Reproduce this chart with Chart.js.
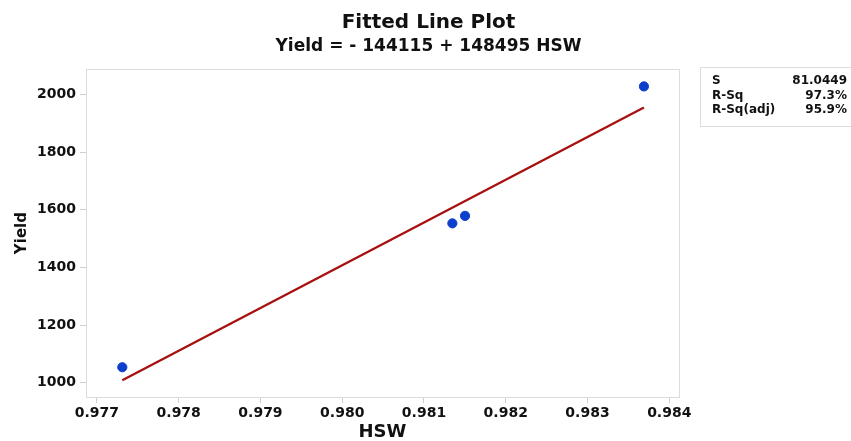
<!DOCTYPE html>
<html>
<head>
<meta charset="utf-8">
<script src="https://cdn.jsdelivr.net/npm/chart.js@4"></script>
<style>
  html, body { margin: 0; padding: 0; background: #fff; }
  #wrap { position: relative; width: 851px; height: 441px; }
  #stats {
    position: absolute; left: 700px; top: 67px; width: 151px; height: 60px;
    border: 1px solid #dcdcdc; border-right: none; box-sizing: border-box;
    font-family: "DejaVu Sans", sans-serif; font-weight: bold; font-size: 12px;
    color: #111; padding: 5px 4px 0 11px;
  }
  #stats .row { display: flex; justify-content: space-between; height: 14.6px; line-height: 14.6px; white-space: nowrap; }
</style>
</head>
<body>
<div id="wrap">
  <canvas id="c" width="851" height="441"></canvas>
  <div id="stats"></div>
</div>
<script>
// Data
const hsw = [0.97731, 0.981347, 0.981502, 0.98369];
const yieldVals = [1054, 1553, 1579, 2028];
const fitX = [0.97731, 0.98369];
const fitY = [1009, 1955];
const xTicks = [0.977, 0.978, 0.979, 0.980, 0.981, 0.982, 0.983, 0.984];
const yTicks = [1000, 1200, 1400, 1600, 1800, 2000];
const statLabels = ["S", "R-Sq", "R-Sq(adj)"];
const statValues = ["81.0449", "97.3%", "95.9%"];
const titleText = "Fitted Line Plot";
const subtitleText = "Yield = - 144115 + 148495 HSW";
const xTitle = "HSW";
const yTitle = "Yield";

const statsEl = document.getElementById('stats');
statLabels.forEach((l, i) => {
  const r = document.createElement('div');
  r.className = 'row';
  const a = document.createElement('span'); a.textContent = l;
  const b = document.createElement('span'); b.textContent = statValues[i];
  r.appendChild(a); r.appendChild(b);
  statsEl.appendChild(r);
});

const FONT = '"DejaVu Sans", sans-serif';

new Chart(document.getElementById('c'), {
  type: 'scatter',
  data: {
    datasets: [
      {
        label: 'Data',
        data: hsw.map((x, i) => ({ x: x, y: yieldVals[i] })),
        backgroundColor: '#0b3fcc',
        borderColor: '#0b3fcc',
        pointRadius: 4.6,
        pointHoverRadius: 4.6,
        order: 1
      },
      {
        label: 'Fit',
        type: 'line',
        data: fitX.map((x, i) => ({ x: x, y: fitY[i] })),
        borderColor: '#a80f0f',
        borderWidth: 2.3,
        pointRadius: 0,
        fill: false,
        order: 2
      }
    ]
  },
  options: {
    responsive: false,
    animation: false,
    layout: { padding: { left: 6, right: 0, top: 0, bottom: 0 } },
    plugins: {
      legend: { display: false },
      tooltip: { enabled: false },
      title: {
        display: true, text: titleText, color: '#111',
        font: { family: FONT, size: 20, weight: 'bold', lineHeight: 1.2 },
        padding: { top: 11, bottom: 0 }
      },
      subtitle: {
        display: true, text: subtitleText, color: '#111',
        font: { family: FONT, size: 17, weight: 'bold', lineHeight: 1.2 },
        padding: { top: 1, bottom: 12.8 }
      }
    },
    scales: {
      x: {
        type: 'linear',
        min: 0.976866, max: 0.984119,
        afterBuildTicks: s => { s.ticks = xTicks.map(v => ({ value: v })); },
        afterFit: s => { s.height = 44; },
        ticks: {
          color: '#111', padding: 2,
          font: { family: FONT, size: 14, weight: 'bold' },
          callback: v => v.toFixed(3)
        },
        grid: { display: true, drawOnChartArea: false, drawTicks: true, tickLength: 6, color: '#cfcfcf' },
        border: { display: true, color: '#dcdcdc', width: 1 },
        title: {
          display: true, text: xTitle, color: '#111',
          font: { family: FONT, size: 18, weight: 'bold', lineHeight: 1 },
          padding: { top: 0, bottom: 0 }
        }
      },
      y: {
        type: 'linear',
        min: 950.8, max: 2087.7,
        afterBuildTicks: s => { s.ticks = yTicks.map(v => ({ value: v })); },
        afterFit: s => { s.width = 80; },
        ticks: {
          color: '#111', padding: 4,
          font: { family: FONT, size: 14, weight: 'bold' },
          callback: v => String(v)
        },
        grid: { display: true, drawOnChartArea: false, drawTicks: true, tickLength: 6, color: '#cfcfcf' },
        border: { display: true, color: '#dcdcdc', width: 1 },
        title: {
          display: true, text: yTitle, color: '#111',
          font: { family: FONT, size: 15, weight: 'bold', lineHeight: 1.2 },
          padding: { top: 7, bottom: 0 }
        }
      },
      spacer: {
        type: 'linear', position: 'right', min: 0, max: 1,
        display: true,
        afterFit: s => { s.width = 172; },
        ticks: { display: false },
        grid: { display: false, drawTicks: false },
        border: { display: false },
        title: { display: false }
      }
    }
  },
  plugins: [{
    id: 'frame',
    beforeDraw(chart) {
      const { ctx, chartArea: a } = chart;
      ctx.save();
      ctx.strokeStyle = '#dcdcdc';
      ctx.lineWidth = 1;
      ctx.strokeRect(Math.round(a.left) + 0.5, Math.round(a.top) + 0.5,
                     Math.round(a.right - a.left), Math.round(a.bottom - a.top));
      ctx.restore();
    }
  }]
});
</script>
</body>
</html>
